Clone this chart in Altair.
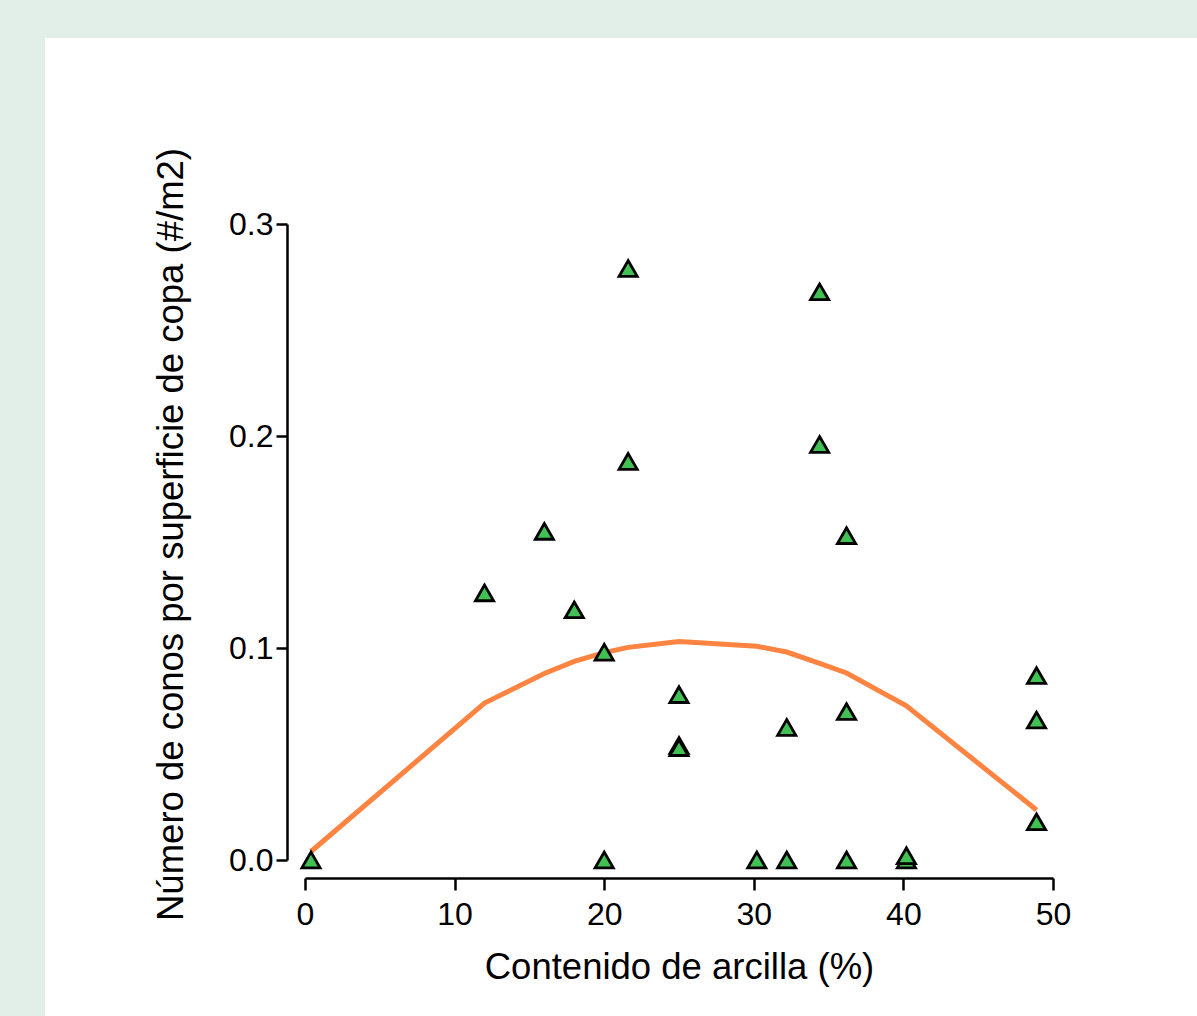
import altair as alt
import pandas as pd

# Scatter data (clay content %, cones per crown area)
pt_x = [0.4, 12.0, 16.0, 18.0, 20.0, 20.0, 21.6, 21.6, 25.0, 25.0, 25.0,
        30.2, 32.2, 32.2, 34.4, 34.4, 36.2, 36.2, 36.2, 40.2, 40.2,
        48.9, 48.9, 48.9]
pt_y = [0.0, 0.126, 0.155, 0.118, 0.098, 0.0, 0.279, 0.188, 0.078, 0.054, 0.053,
        0.0, 0.0625, 0.0, 0.268, 0.196, 0.153, 0.070, 0.0, 0.0, 0.002,
        0.087, 0.066, 0.018]

# Fitted curve
ln_x = [0.4, 12.0, 16.0, 18.0, 20.0, 21.6, 25.0, 30.2, 32.2, 34.4, 36.2, 40.2, 48.9]
ln_y = [0.004, 0.074, 0.088, 0.0937, 0.0978, 0.1003, 0.1031, 0.1008, 0.0981,
        0.0928, 0.0882, 0.0727, 0.0236]

x_ticks = [0, 10, 20, 30, 40, 50]
y_ticks = [0.0, 0.1, 0.2, 0.3]

pts = pd.DataFrame({"x": pt_x, "y": pt_y})
line = pd.DataFrame({"x": ln_x, "y": ln_y})

FONT = "Liberation Sans"

xscale = alt.Scale(domain=[0, 50], nice=False, zero=False)
yscale = alt.Scale(domain=[0, 0.3], nice=False)

xaxis = alt.Axis(values=x_ticks, format="d", title="Contenido de arcilla (%)",
                 offset=18, grid=False, domainColor="black", domainWidth=2.5,
                 tickColor="black", tickWidth=2.5, tickSize=12, labelPadding=9,
                 labelFont=FONT, labelFontSize=32, labelColor="black",
                 titleFont=FONT, titleFontSize=36.5, titleFontWeight="normal",
                 titleColor="black", titlePadding=19, labelFlush=False, zindex=1)
yaxis = alt.Axis(values=y_ticks, format=".1f",
                 title="Número de conos por superficie de copa (#/m2)",
                 offset=18, grid=False, domainColor="black", domainWidth=2.5,
                 tickColor="black", tickWidth=2.5, tickSize=11, labelPadding=3,
                 labelFont=FONT, labelFontSize=32, labelColor="black",
                 titleFont=FONT, titleFontSize=36.5, titleFontWeight="normal",
                 titleColor="black", titlePadding=38, titleY=310,
                 labelFlush=False, zindex=1)

panel = alt.Chart(pd.DataFrame({"a": [0]})).mark_rect(color="white").encode(
    x=alt.value(-260), x2=alt.value(900), y=alt.value(-186), y2=alt.value(800)
)

curve = alt.Chart(line).mark_line(color="#FF8442", strokeWidth=5).encode(
    x=alt.X("x:Q", scale=xscale, axis=xaxis),
    y=alt.Y("y:Q", scale=yscale, axis=yaxis),
)

points = alt.Chart(pts).mark_point(shape="triangle-up", filled=True, fill="#41C053",
                                   stroke="black", strokeWidth=2.8, size=330,
                                   opacity=1).encode(
    x=alt.X("x:Q", scale=xscale),
    y=alt.Y("y:Q", scale=yscale),
)

chart = alt.layer(panel, curve, points).properties(
    width=748, height=636,
    autosize="none",
    padding={"left": 305, "top": 224, "right": 144, "bottom": 156},
    background="#E1EFE8",
).configure_view(stroke=None)

chart.save("out.html", embed_options={"renderer": "svg", "actions": False})
